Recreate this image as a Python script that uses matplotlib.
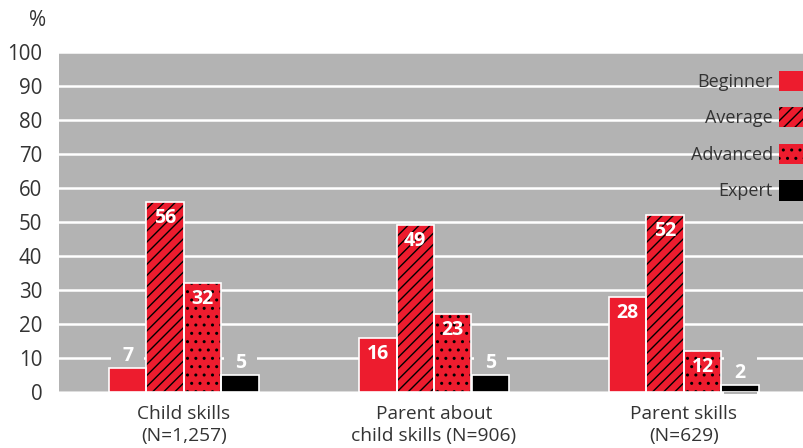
import matplotlib.pyplot as plt
import numpy as np
from matplotlib.patches import Patch

# Data
categories = ['Child skills\n(N=1,257)', 'Parent about\nchild skills (N=906)', 'Parent skills\n(N=629)']
levels = ['Beginner', 'Average', 'Advanced', 'Expert']
beginner = [7, 16, 28]
average = [56, 49, 52]
advanced = [32, 23, 12]
expert = [5, 5, 2]

RED = '#ED1C2E'
BG = '#B3B3B3'
TXT = '#333333'

plt.rcParams['font.family'] = ['Open Sans', 'DejaVu Sans']
plt.rcParams['hatch.linewidth'] = 1.0

fig = plt.figure(figsize=(8.04, 4.48), dpi=100)
ax = fig.add_axes([59 / 804, 56 / 448, 1 - 59 / 804, 340 / 448])
ax.set_facecolor(BG)

series = [beginner, average, advanced, expert]
colors = [RED, RED, RED, 'black']
hatches = [None, '///', '..', None]
width = 0.15
x = np.arange(len(categories))

for i, (vals, col, hat) in enumerate(zip(series, colors, hatches)):
    pos = x + (i - 1.5) * width
    # fill + hatch (hatch takes the edge colour)
    ax.bar(pos, vals, width, color=col, edgecolor='black', hatch=hat,
           linewidth=0, zorder=3)
    # white outline on top
    ax.bar(pos, vals, width, fill=False, edgecolor='white', linewidth=1.2, zorder=4)
    for p, v in zip(pos, vals):
        if v >= 10:
            ax.text(p, v - 4.7, str(v), ha='center', va='center', color='white',
                    fontsize=14, fontweight='bold', zorder=5)
        else:
            # grey box hides the grid line behind the label, bars stay on top
            ax.text(p, v + 3.6, str(v), ha='center', va='center', color='white',
                    fontsize=14, fontweight='bold', zorder=2,
                    bbox=dict(boxstyle='square,pad=0.55', facecolor=BG, edgecolor='none'))

ax.set_xlim(-0.5, 2.48)
ax.set_ylim(0, 100)
ax.set_yticks(np.arange(0, 101, 10))
ax.yaxis.grid(True, color='white', linewidth=1.8, zorder=1)
ax.set_axisbelow(True)
ax.tick_params(axis='y', length=0, labelsize=14.8, labelcolor=TXT, pad=12)
ax.tick_params(axis='x', length=0, labelsize=13.8, labelcolor=TXT, pad=9)
ax.set_xticks(x)
ax.set_xticklabels(categories, linespacing=1.3)
for s in ax.spines.values():
    s.set_visible(False)
ax.axhline(0, color='#DDDDDD', linewidth=1.5, zorder=2)

fig.text(38 / 804, 1 - 21 / 448, '%', ha='center', va='center', fontsize=15, color=TXT)

handles = [Patch(facecolor=c, edgecolor='black', hatch=h, linewidth=0)
           for c, h in zip(colors, hatches)]
leg = ax.legend(handles, levels, loc='upper right', bbox_to_anchor=(1.015, 0.945),
                frameon=False, markerfirst=False, fontsize=13, handlelength=2.0,
                handleheight=1.35, labelspacing=0.9, handletextpad=0.35,
                borderpad=0, borderaxespad=0)
for t in leg.get_texts():
    t.set_color(TXT)

fig.savefig('out.png', dpi=100)
